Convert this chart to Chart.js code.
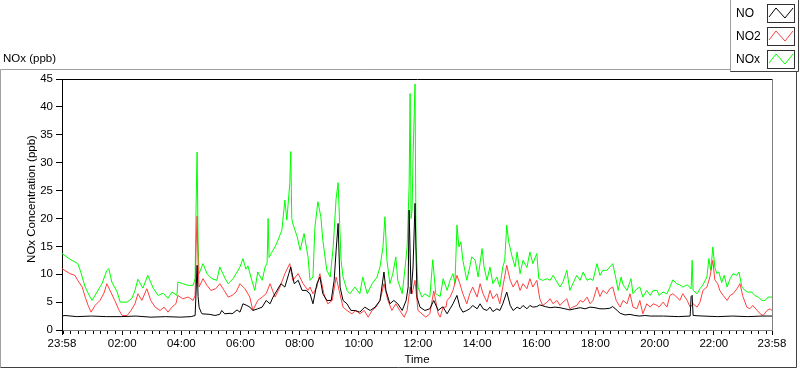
<!DOCTYPE html>
<html><head><meta charset="utf-8">
<script src="https://cdn.jsdelivr.net/npm/chart.js@4/dist/chart.umd.min.js"></script>
<style>html,body{margin:0;padding:0;background:#fff;overflow:hidden}#wrap{position:relative;width:800px;height:369px}</style>
</head><body><div id="wrap"><canvas id="c" width="800" height="369"></canvas></div>
<script>
// time = minutes elapsed since 23:58 (start of the record)
const noTimes=[0,6,30,60,90,120,150,180,210,240,262,270,272,274,276,278,282,284,300,310,320,324,330,341,345,355,361,367,375,381,387,397,406,414,422,428,436,444,452,460,464,471,479,487,495,503,509,517,523,529,537,546,552,556,560,564,570,578,586,594,604,614,625,635,645,653,657,665,673,681,690,698,702,704,708,712,716,720,726,736,746,754,763,771,773,781,787,793,801,807,813,821,827,833,842,848,854,862,868,874,882,888,894,902,909,915,923,929,935,943,949,955,963,969,980,990,1000,1010,1020,1030,1040,1051,1061,1071,1081,1091,1101,1111,1117,1126,1132,1142,1152,1162,1172,1182,1193,1220,1250,1274,1276,1278,1280,1300,1330,1360,1390,1420,1440];
const noValues=[2.5,2.6,2.4,2.5,2.4,2.4,2.5,2.3,2.4,2.3,2.4,2.6,7,11.6,6,4.1,3.2,2.9,2.8,2.6,2.8,3.5,2.9,3.0,2.9,3.6,3.2,4.7,4.4,4.1,3.5,3.8,4.1,5.3,4.7,5.9,7.1,8.3,7.7,10.1,11.3,8.3,8.9,7.1,7.1,6.5,4.7,8.3,9.5,6.5,5.3,5.3,8.9,14.3,19.1,7.7,5.3,4.7,3.5,3.5,3.2,4.1,3.5,4.1,5.3,10.4,7.1,4.7,5.3,4.7,3.5,5.3,7.7,21.5,6.5,11.3,22.7,5.9,4.1,3.5,3.8,5.3,3.5,4.1,4.1,2.9,3.8,4.7,6.2,4.1,3.2,3.5,3.8,4.4,3.8,4.7,3.8,3.5,4.1,3.3,3.8,3.5,4.7,6.8,4.4,3.5,4.1,3.8,4.4,3.8,4.4,4.1,4.2,4.5,4.2,4.0,4.1,4.0,3.8,3.6,3.8,4.0,3.8,4.1,4.0,3.8,3.8,3.9,4.2,3.5,3.0,2.7,2.8,2.6,2.5,2.6,2.5,2.5,2.4,2.5,6.0,6.2,2.6,2.5,2.4,2.5,2.4,2.5,2.5];

const no2Times=[0,16,26,32,41,47,53,59,67,77,85,91,99,107,116,122,132,140,148,154,162,172,180,189,199,207,215,223,231,235,245,256,266,270,272,274,276,278,286,294,302,312,320,329,337,345,353,361,371,381,387,397,406,414,422,432,442,452,462,468,479,489,499,503,509,517,523,531,539,548,556,562,570,578,588,596,604,613,621,629,637,645,653,661,669,677,685,694,700,706,710,716,722,730,738,746,754,763,767,771,773,779,781,787,793,801,807,813,821,827,833,842,848,854,862,868,874,882,888,894,902,909,915,923,929,935,943,949,955,963,969,975,984,990,996,1004,1010,1016,1024,1030,1036,1044,1051,1057,1065,1071,1077,1085,1091,1097,1105,1111,1117,1124,1132,1138,1146,1152,1158,1166,1172,1178,1186,1193,1199,1207,1211,1219,1227,1233,1239,1247,1253,1259,1268,1274,1280,1288,1294,1300,1308,1314,1320,1324,1330,1334,1341,1349,1355,1361,1369,1375,1381,1389,1395,1401,1410,1416,1422,1430,1436,1440];
const no2Values=[11.0,10.1,9.8,8.9,7.7,5.9,4.4,3.2,4.4,5.3,6.6,8.3,6.8,5.3,3.5,2.6,2.6,3.5,4.7,6.5,5.3,7.4,5.3,4.1,3.5,4.1,3.2,4.1,4.7,6.2,5.6,5.9,5.3,6.2,15,20.4,12,7.7,9.2,8.0,7.1,7.4,8.3,7.1,5.9,6.2,6.8,8.3,7.4,5.9,3.5,5.3,5.9,6.5,8.3,5.9,7.7,10.1,11.9,8.9,10.1,8.3,7.1,7.7,6.5,7.7,10.1,6.5,4.7,5.3,9.5,7.1,4.1,3.5,2.9,3.5,2.9,3.5,2.3,3.5,4.1,5.3,8.3,5.3,3.5,4.7,3.5,2.3,3.5,7.7,6.5,8.9,3.5,2.9,2.3,2.9,7.0,2.9,2.3,3.5,4.1,4.1,5.3,5.9,7.1,9.8,8.3,6.5,4.7,6.5,7.7,5.9,8.3,6.5,5.0,7.1,5.6,6.5,4.7,7.7,11.6,8.9,7.7,8.9,7.1,8.3,7.4,9.2,7.7,8.9,5.6,4.4,5.0,5.6,4.7,5.3,4.4,5.0,5.6,3.8,4.1,4.4,5.3,5.0,5.9,4.7,5.3,7.7,6.0,7.1,6.5,7.4,7.7,5.3,4.1,5.3,4.7,6.5,4.1,3.8,5.3,2.9,4.7,4.1,4.7,4.4,4.1,5.0,4.1,6.2,6.5,5.9,5.3,6.5,5.3,4.1,4.7,4.1,5.0,7.1,7.7,9.5,12.5,9.0,8.3,7.1,6.2,5.3,6.2,6.5,7.4,8.3,6.0,4.1,3.8,4.4,3.5,2.9,2.6,3.5,3.8,3.5];

const noxTimes=[0,16,26,32,37,47,57,61,71,81,91,95,101,112,118,132,142,148,154,164,174,185,195,205,215,223,233,235,245,256,266,270,272,274,276,278,286,294,304,314,320,331,337,347,357,361,367,373,377,385,391,397,406,412,416,418,420,424,432,438,446,452,456,462,464,466,468,477,483,491,499,503,509,513,519,525,529,537,544,550,556,560,566,570,578,584,594,604,610,619,629,639,645,651,655,659,665,671,677,681,690,696,700,704,706,708,710,712,716,718,722,730,736,746,752,758,767,773,781,787,793,797,801,805,809,813,821,827,831,838,844,852,856,862,868,874,882,888,894,898,902,906,913,919,923,929,935,943,949,955,963,967,975,984,990,996,1004,1010,1016,1024,1030,1036,1044,1051,1057,1065,1071,1077,1085,1091,1097,1105,1111,1117,1124,1128,1134,1138,1146,1154,1158,1166,1172,1178,1186,1193,1199,1207,1211,1219,1227,1233,1239,1247,1253,1259,1268,1276,1278,1280,1288,1294,1300,1308,1312,1316,1320,1324,1328,1332,1338,1343,1349,1355,1361,1369,1373,1379,1385,1391,1399,1405,1412,1420,1426,1432,1440];
const noxValues=[13.7,12.7,12.2,11.9,10.7,7.7,5.9,5.3,6.8,8.3,10.7,11.0,8.6,6.8,5.0,5.0,5.7,7.1,9.1,7.5,9.8,7.5,6.2,6.6,5.7,6.8,6.2,8.6,8.3,8.0,8.0,9.2,22.7,31.9,15.5,10.1,11.9,10.1,9.2,8.9,11.3,9.2,8.3,9.2,10.7,11.3,12.8,10.9,11.5,8.9,7.1,10.4,8.9,11.3,12,20.0,13,13.7,14.9,16.1,17.9,23.3,19.7,26.3,32.0,20,19.1,16.7,14.3,17.3,13.1,8.9,9.5,18.5,23.0,20.3,16.1,10.7,9.5,14.9,23.6,26.4,12.5,9.5,7.1,6.5,7.7,6.5,9.5,6.5,8.3,9.5,11.3,14.9,20.3,12.5,8.3,10.1,13.1,8.9,6.5,11.3,14.9,25.7,42.4,20,21.5,31.0,44.1,14.9,7.7,5.9,6.5,5.9,12.6,6.5,6.0,9.2,7.1,8.9,10.1,8.3,18.8,14.9,15.8,12.5,8.9,11.3,13.1,12.5,9.5,14.6,11.3,8.9,11.3,8.3,9.5,7.7,11.3,12.5,18.8,15.8,13.1,11.3,14.0,10.1,12.5,11.2,14.0,11.9,13.7,9.2,8.9,9.2,8.9,9.8,8.6,7.7,8.6,10.7,7.1,8.3,9.8,8.9,10.4,8.9,9.2,8.9,11.9,9.8,10.7,10.7,11.3,11.9,9.0,7.1,9.5,8.1,7.1,9.2,6.5,7.4,7.7,5.9,7.1,6.2,7.1,7.1,6.2,6.8,6.5,7.7,9.0,8.3,8.1,7.7,8.1,7.4,12.5,7.1,6.5,7.4,8.1,9.5,12.8,10.7,14.9,11.3,10.1,10.4,8.5,9.8,7.7,9.2,10.1,9.8,10.4,7.7,7.1,6.8,6.8,6.2,5.9,5.3,5.3,5.9,5.9];

const seriesNames=['NO','NO2','NOx'];
const seriesColors=['#000000','#ff4040','#00ff00'];
const xTickMinutes=[0,122,242,362,482,602,722,842,962,1082,1202,1322,1440];
const xTickLabels=['23:58','02:00','04:00','06:00','08:00','10:00','12:00','14:00','16:00','18:00','20:00','22:00','23:58'];
const yTicks=[0,5,10,15,20,25,30,35,40,45];

const FONT='"Liberation Sans", Arial, sans-serif';
const toXY=(t,v)=>t.map((x,i)=>({x:x,y:v[i]}));

const deco={
  id:'deco',
  beforeDraw(chart){const c=chart.ctx;c.save();c.fillStyle='#fff';c.fillRect(0,0,chart.width,chart.height);c.restore();},
  afterDraw(chart){
    const c=chart.ctx, a=chart.chartArea, xs=chart.scales.x;
    c.save();
    c.lineWidth=1;
    // plot top & right borders
    c.strokeStyle='#000';c.beginPath();c.moveTo(a.left,a.top+0.5);c.lineTo(a.right+1,a.top+0.5);c.stroke();
    c.strokeStyle='#808080';c.beginPath();c.moveTo(a.right+0.5,a.top);c.lineTo(a.right+0.5,a.bottom+1);c.stroke();
    // minor ticks every 15 min on the clock
    c.strokeStyle='#000';c.beginPath();
    for(let t=2;t<1440;t+=15){ if(xTickMinutes.indexOf(t)>=0) continue; const px=Math.round(xs.getPixelForValue(t))+0.5; c.moveTo(px,a.bottom+1);c.lineTo(px,a.bottom+4);}
    c.stroke();
    // outer frame
    c.strokeStyle='#a0a0a0';c.beginPath();c.moveTo(0.5,367.5);c.lineTo(0.5,69.5);c.lineTo(731,69.5);c.stroke();
    c.strokeStyle='#404040';c.beginPath();c.moveTo(0.5,367.5);c.lineTo(796.5,367.5);c.lineTo(796.5,69.5);c.stroke();
    // texts
    c.fillStyle='#000';c.font='11.5px '+FONT;c.textBaseline='middle';c.textAlign='left';
    c.fillText('NOx (ppb)',3,59);
    c.textAlign='center';
    c.fillText('Time',(a.left+a.right)/2,360);
    c.save();c.translate(32,199);c.rotate(-Math.PI/2);c.fillText('NOx Concentration (ppb)',0,0);c.restore();
    // legend box
    c.fillStyle='#fff';c.fillRect(731,0,68,72);
    c.strokeStyle='#a0a0a0';c.beginPath();c.moveTo(730.5,72);c.lineTo(730.5,0);c.stroke();
    c.strokeStyle='#404040';c.beginPath();c.moveTo(730.5,71.5);c.lineTo(798.5,71.5);c.lineTo(798.5,0);c.stroke();
    c.textAlign='left';c.fillStyle='#000';c.font='12px '+FONT;
    for(let i=0;i<3;i++){
      const top=4+i*23;
      c.fillText(seriesNames[i],736,top+9.5);
      c.strokeStyle='#303030';c.strokeRect(767.5,top+0.5,27,18);
      c.strokeStyle=seriesColors[i];c.beginPath();
      c.moveTo(769,top+13);c.lineTo(776,top+4);c.lineTo(785,top+14);c.lineTo(793,top+4);c.stroke();
    }
    c.restore();
  }
};

new Chart(document.getElementById('c'),{
  type:'line',
  data:{datasets:[
    {label:'NO',data:toXY(noTimes,noValues),borderColor:seriesColors[0]},
    {label:'NO2',data:toXY(no2Times,no2Values),borderColor:seriesColors[1]},
    {label:'NOx',data:toXY(noxTimes,noxValues),borderColor:seriesColors[2]}
  ]},
  options:{
    responsive:false,animation:false,devicePixelRatio:1,
    layout:{padding:{left:0,top:79,right:28,bottom:0}},
    elements:{line:{borderWidth:1,tension:0},point:{radius:0}},
    plugins:{legend:{display:false},tooltip:{enabled:false}},
    scales:{
      x:{type:'linear',min:0,max:1440,
        afterBuildTicks(s){s.ticks=xTickMinutes.map(v=>({value:v}));},
        afterFit(s){s.height=39;},
        ticks:{autoSkip:false,maxRotation:0,padding:2,color:'#000',font:{family:FONT,size:11.5},
          callback(v){const i=xTickMinutes.indexOf(v);return i>=0?xTickLabels[i]:'';}},
        grid:{drawOnChartArea:false,drawTicks:true,tickLength:5,tickColor:'#000',tickWidth:1},
        border:{display:true,color:'#808080',width:1}},
      y:{min:0,max:45,
        afterBuildTicks(s){s.ticks=yTicks.map(v=>({value:v}));},
        afterFit(s){s.width=62;},
        ticks:{padding:3,color:'#000',font:{family:FONT,size:11.5}},
        grid:{drawOnChartArea:false,drawTicks:true,tickLength:6,tickColor:'#000'},
        border:{display:true,color:'#000',width:1}}
    }
  },
  plugins:[deco]
});
</script></body></html>
